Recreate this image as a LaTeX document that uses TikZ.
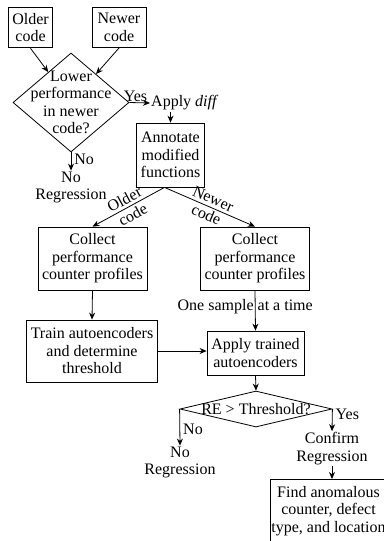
\documentclass[tikz,border=0pt]{standalone}
\usepackage{fontspec}
\setmainfont{Liberation Serif}
\usetikzlibrary{shapes.geometric, arrows.meta}

\begin{document}
\begin{tikzpicture}[
                x=1pt, y=-1pt,
                font=\fontsize{16}{17.5}\selectfont,
                box/.style={draw, line width=0.8pt, align=center, inner xsep=4pt, inner ysep=6pt},
                decision/.style={draw, diamond, line width=0.8pt, inner sep=0pt},
                txt/.style={align=center, inner sep=1pt},
                arr/.style={line width=0.8pt, -{Stealth[length=7pt, width=6pt]}}
            ]
            \useasboundingbox (0,0) rectangle (383,541);

            \node[box] (older) at (30.5,27.5) {Older\\code};
            \node[box, minimum width=54pt] (newer) at (119,27.5) {Newer\\code};
            \node[decision, minimum width=116pt, minimum height=99pt] (lower) at (71,102.5) {};
            \node[txt] (lowertext) at (lower) {Lower\\performance\\in newer\\code?};
            \node[txt, anchor=west] (diff) at (150,103) {Apply \textit{diff}};
            \node[txt] (noreg) at (71,187.5) {No\\Regression};
            \node[box, minimum width=67pt, minimum height=64pt] (annot) at (170.5,155) {Annotate\\modified\\functions};
            \node[box, minimum width=107pt, minimum height=63pt] (collectold) at (92.5,258.5) {Collect\\performance\\counter profiles};
            \node[box, minimum width=107pt, minimum height=63pt] (collectnew) at (255,258.5) {Collect\\performance\\counter profiles};
            \node[box, minimum width=128pt, minimum height=62pt] (train) at (92,351) {Train autoencoders\\and determine\\threshold};
            \node[box, minimum width=97pt, minimum height=44pt] (applyae) at (255.5,353) {Apply trained\\autoencoders};
            \node[decision, minimum width=152pt, minimum height=36pt] (thresh) at (256,409) {};
            \node[txt] (threshtext) at (thresh) {RE > Threshold?};
            \node[txt] (noregbottom) at (180,462.5) {No\\Regression};
            \node[txt] (confirm) at (332,448.5) {Confirm\\Regression};
            \node[box, inner xsep=1pt, minimum height=63pt, anchor=north west] (find) at (270,479) {Find anomalous\\counter, defect\\type, and location};

            \draw[arr] (older.south) -- (lower);
            \draw[arr] (newer.south) -- (lower);
            \draw[arr] (lower.east) -- node[above, pos=0.3, inner sep=1pt] {Yes} (diff.west);
            \draw[arr] (lower.south) -- node[right, pos=0.4, inner sep=3pt] {No} (noreg.north);
            \draw[arr] (diff.south -| annot.north) -- (annot.north);
            \draw[arr] ([xshift=-6pt]annot.south) -- node[midway, sloped, align=center, inner sep=0pt] {Older\\code} (collectold.north);
            \draw[arr] ([xshift=-6pt]annot.south) -- node[midway, sloped, align=center, inner sep=0pt] {Newer\\code} (collectnew.north);
            \draw[arr] (collectold.south) -- (train.north);
            \draw[arr] (collectnew.south) -- node[pos=0.41, xshift=-10pt, inner sep=0pt] {One sample at a time} (applyae.north);
            \draw[arr] (train.east) -- (train.east -| applyae.west);
            \draw[arr] (applyae.south) -- (thresh.north);
            \draw[arr] (thresh.west) -- node[right, pos=0.55, inner sep=3pt] {No} (noregbottom.north);
            \draw[arr] (thresh.east) -- node[right, pos=0.25, inner sep=3pt] {Yes} (confirm.north);
            \draw[arr] (confirm.south) -- (confirm.south |- find.north);
        \end{tikzpicture}
\end{document}
